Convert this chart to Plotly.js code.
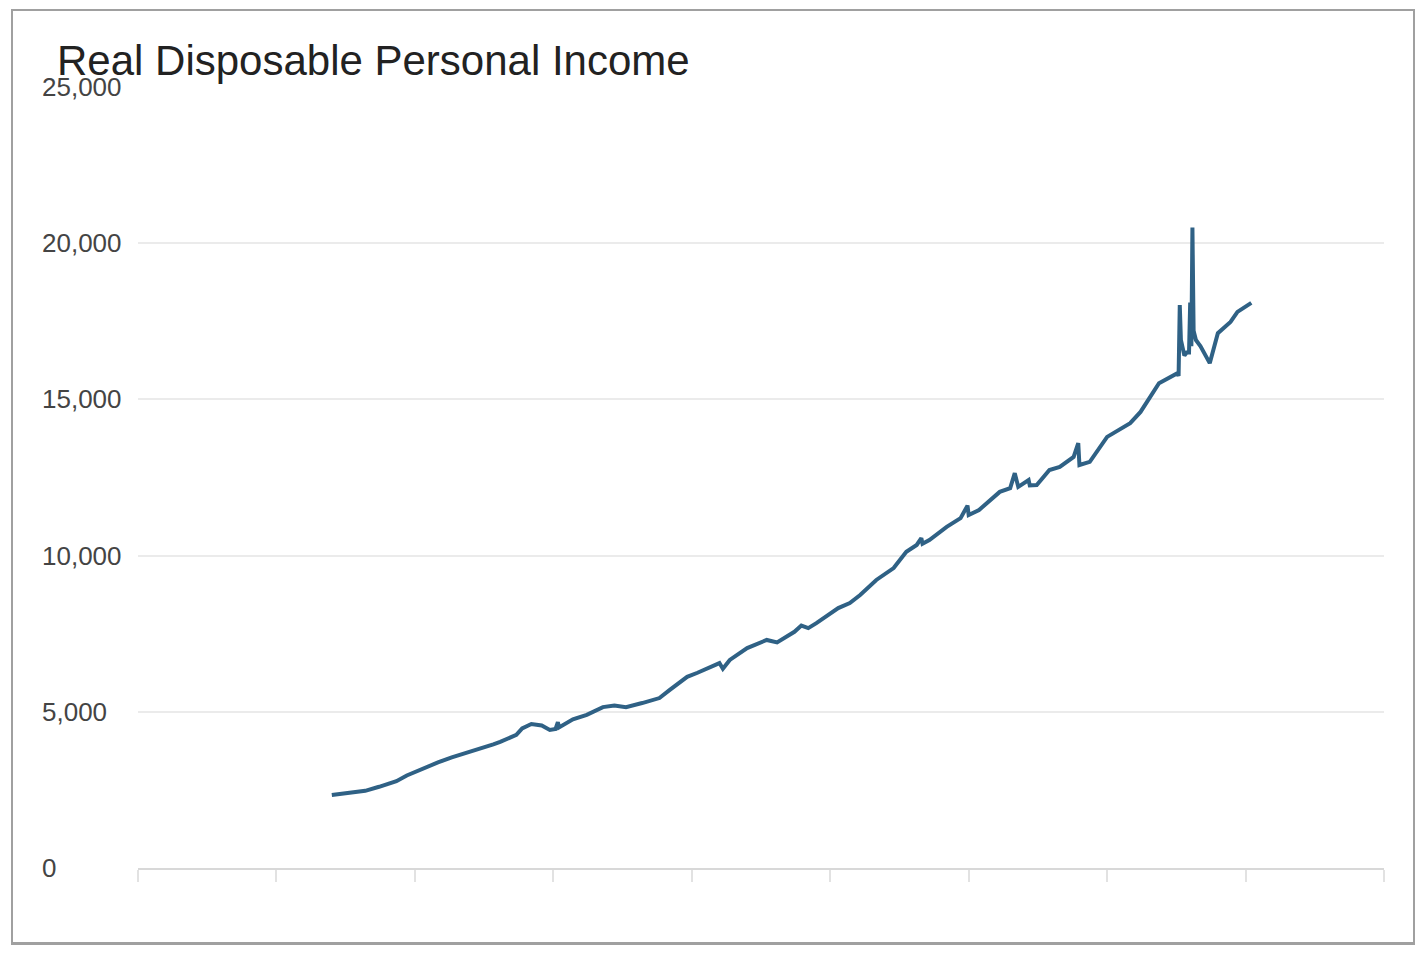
<!DOCTYPE html>
<html>
<head>
<meta charset="utf-8">
<script src="https://cdn.plot.ly/plotly-3.0.1.min.js"></script>
<style>
  body { margin: 0; background: #fff; }
  #chart { position: absolute; left: 0; top: 0; width: 1428px; height: 960px; }
  #frame {
    position: absolute; left: 11px; top: 9px; width: 1400px; height: 931px;
    border: 2px solid #a0a0a0; border-bottom-width: 3px; pointer-events: none;
  }
</style>
</head>
<body>
<div id="chart"></div>
<div id="frame"></div>
<script>
const chartTitle = "Real Disposable Personal Income";

const months = [
  "1959-01", "1960-06", "1961-06", "1962-06", "1963-09", "1964-06", "1965-09",
  "1966-09", "1967-09", "1968-10", "1969-10", "1970-09", "1971-03", "1972-05",
  "1972-10", "1973-06", "1974-03", "1974-10", "1975-03", "1975-05", "1975-06",
  "1976-06", "1977-06", "1978-08", "1979-06", "1980-04", "1981-06", "1982-09",
  "1983-06", "1984-09", "1985-06", "1986-09", "1987-01", "1987-04", "1987-10",
  "1989-01", "1990-06", "1991-03", "1992-06", "1992-12", "1993-06", "1994-01",
  "1995-08", "1996-06", "1997-03", "1998-05", "1999-08", "2000-07", "2001-04",
  "2001-08", "2001-09", "2002-03", "2003-06", "2004-06", "2004-12", "2005-01",
  "2005-10", "2007-04", "2008-01", "2008-05", "2008-08", "2009-05", "2009-06",
  "2009-12", "2010-11", "2011-08", "2012-08", "2012-12", "2013-01", "2013-10",
  "2015-01", "2016-09", "2017-06", "2018-10", "2019-08", "2020-02", "2020-03",
  "2020-04", "2020-05", "2020-06", "2020-08", "2020-10", "2020-12", "2021-01",
  "2021-02", "2021-03", "2021-04", "2021-06", "2021-10", "2022-06", "2022-10",
  "2023-01", "2023-12", "2024-06", "2025-06"
];
const income = [
  2340, 2420, 2470, 2600, 2780, 2960, 3200,
  3380, 3540, 3680, 3820, 3960, 4040, 4260,
  4470, 4610, 4560, 4420, 4450, 4670, 4500,
  4760, 4900, 5150, 5200, 5150, 5280, 5440,
  5700, 6120, 6250, 6500, 6560, 6380, 6660,
  7040, 7300, 7220, 7560, 7760, 7680, 7840,
  8320, 8480, 8740, 9220, 9600, 10120, 10340,
  10560, 10380, 10500, 10920, 11200, 11600, 11300,
  11460, 12040, 12160, 12640, 12200, 12420, 12250,
  12260, 12740, 12840, 13160, 13600, 12900, 13000,
  13800, 14240, 14600, 15520, 15700, 15840, 15750,
  18020, 16900, 16700, 16400, 16500, 16500, 18100,
  16700, 20500, 17200, 16900, 16700, 16160, 16700,
  17120, 17480, 17800, 18090
];

const yTicks = [0, 5000, 10000, 15000, 20000, 25000];
const yTickLabels = ["0", "5,000", "10,000", "15,000", "20,000", "25,000"];

const font = "Arial, 'Liberation Sans', sans-serif";

const trace = {
  x: months,
  y: income,
  type: "scatter",
  mode: "lines",
  hoverinfo: "none",
  line: { color: "#2f6185", width: 4 },
};

// y labels are left aligned in the original, so draw them as annotations
const labels = yTicks.map((v, i) => ({
  xref: "paper",
  yref: "y",
  x: 0,
  y: v,
  xanchor: "left",
  yanchor: "middle",
  text: yTickLabels[i],
  showarrow: false,
  font: { family: font, size: 26, color: "#444" },
}));

const layout = {
  width: 1428,
  height: 960,
  margin: { l: 40, r: 44, t: 87, b: 92 },
  paper_bgcolor: "#fff",
  plot_bgcolor: "#fff",
  showlegend: false,
  title: {
    text: chartTitle,
    font: { family: font, size: 42, color: "#222" },
    xref: "container",
    yref: "container",
    x: 57 / 1428,
    xanchor: "left",
    y: 1 - 60 / 960,
    yanchor: "middle",
  },
  xaxis: {
    type: "date",
    domain: [98 / 1344, 1],
    range: ["1945-01-01", "2035-01-01"],
    tick0: "1945-01-01",
    dtick: "M120",
    ticks: "outside",
    ticklen: 12,
    tickwidth: 2,
    tickcolor: "#e2e2e2",
    showticklabels: false,
    showgrid: false,
    zeroline: false,
    showline: true,
    linecolor: "#d8d8d8",
    linewidth: 2,
  },
  yaxis: {
    range: [0, 25000],
    tickvals: yTicks,
    showticklabels: false,
    showgrid: true,
    gridcolor: "#ebebeb",
    gridwidth: 2,
    zeroline: false,
    showline: false,
    ticks: "",
  },
  annotations: labels,
};

Plotly.newPlot(document.getElementById("chart"), [trace], layout, {
  staticPlot: true,
});
</script>
</body>
</html>
